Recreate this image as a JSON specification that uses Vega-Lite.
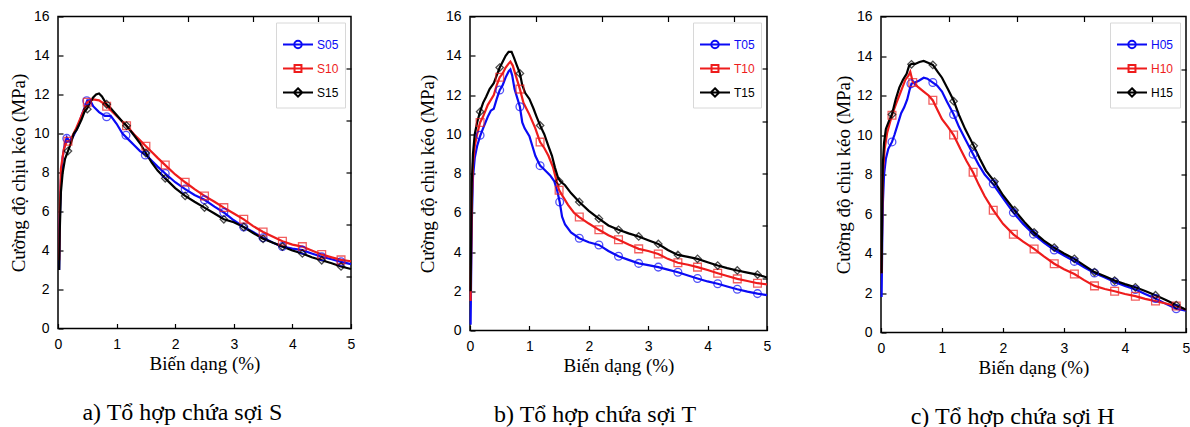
{
  "$schema": "https://vega.github.io/schema/vega-lite/v6.json",
  "padding": {"left": 8, "top": 8.5, "right": 0, "bottom": 0},
  "spacing": 61,
  "resolve": {"scale": {"color": "independent", "shape": "independent"}, "legend": {"color": "independent", "shape": "independent"}},
  "datasets": {
    "a": [
      {"s":"S05","x":0.02,"y":3.0},{"s":"S05","x":0.03,"y":5.5},{"s":"S05","x":0.05,"y":7.6},{"s":"S05","x":0.08,"y":8.8},{"s":"S05","x":0.12,"y":9.5},{"s":"S05","x":0.15,"y":9.8},{"s":"S05","x":0.2,"y":9.6},{"s":"S05","x":0.25,"y":9.8},{"s":"S05","x":0.3,"y":10.1},{"s":"S05","x":0.35,"y":10.4},{"s":"S05","x":0.4,"y":10.9},{"s":"S05","x":0.45,"y":11.3},{"s":"S05","x":0.5,"y":11.7},{"s":"S05","x":0.55,"y":11.7},{"s":"S05","x":0.6,"y":11.4},{"s":"S05","x":0.7,"y":11.1},{"s":"S05","x":0.8,"y":10.9},{"s":"S05","x":0.9,"y":10.9},{"s":"S05","x":1.0,"y":10.5},{"s":"S05","x":1.1,"y":10.0},{"s":"S05","x":1.2,"y":9.7},{"s":"S05","x":1.3,"y":9.4},{"s":"S05","x":1.4,"y":9.1},{"s":"S05","x":1.5,"y":8.9},{"s":"S05","x":1.6,"y":8.6},{"s":"S05","x":1.7,"y":8.3},{"s":"S05","x":1.83,"y":7.95},{"s":"S05","x":2.0,"y":7.5},{"s":"S05","x":2.17,"y":7.15},{"s":"S05","x":2.33,"y":6.85},{"s":"S05","x":2.5,"y":6.6},{"s":"S05","x":2.67,"y":6.25},{"s":"S05","x":2.83,"y":5.95},{"s":"S05","x":3.0,"y":5.55},{"s":"S05","x":3.17,"y":5.2},{"s":"S05","x":3.33,"y":4.95},{"s":"S05","x":3.5,"y":4.65},{"s":"S05","x":3.67,"y":4.4},{"s":"S05","x":3.83,"y":4.2},{"s":"S05","x":4.0,"y":4.1},{"s":"S05","x":4.17,"y":4.02},{"s":"S05","x":4.33,"y":3.85},{"s":"S05","x":4.5,"y":3.68},{"s":"S05","x":4.67,"y":3.55},{"s":"S05","x":4.83,"y":3.42},{"s":"S05","x":5.0,"y":3.3},
      {"s":"S10","x":0.02,"y":3.5},{"s":"S10","x":0.03,"y":6.0},{"s":"S10","x":0.05,"y":8.2},{"s":"S10","x":0.1,"y":9.2},{"s":"S10","x":0.15,"y":9.6},{"s":"S10","x":0.2,"y":9.6},{"s":"S10","x":0.25,"y":9.9},{"s":"S10","x":0.3,"y":10.2},{"s":"S10","x":0.4,"y":10.9},{"s":"S10","x":0.5,"y":11.6},{"s":"S10","x":0.6,"y":11.75},{"s":"S10","x":0.7,"y":11.7},{"s":"S10","x":0.8,"y":11.5},{"s":"S10","x":0.9,"y":11.2},{"s":"S10","x":1.0,"y":10.9},{"s":"S10","x":1.1,"y":10.6},{"s":"S10","x":1.2,"y":10.3},{"s":"S10","x":1.3,"y":9.95},{"s":"S10","x":1.4,"y":9.65},{"s":"S10","x":1.5,"y":9.35},{"s":"S10","x":1.6,"y":9.05},{"s":"S10","x":1.7,"y":8.75},{"s":"S10","x":1.83,"y":8.38},{"s":"S10","x":2.0,"y":7.9},{"s":"S10","x":2.17,"y":7.5},{"s":"S10","x":2.33,"y":7.15},{"s":"S10","x":2.5,"y":6.8},{"s":"S10","x":2.67,"y":6.5},{"s":"S10","x":2.83,"y":6.2},{"s":"S10","x":3.0,"y":5.9},{"s":"S10","x":3.17,"y":5.6},{"s":"S10","x":3.33,"y":5.25},{"s":"S10","x":3.5,"y":4.95},{"s":"S10","x":3.67,"y":4.7},{"s":"S10","x":3.83,"y":4.47},{"s":"S10","x":4.0,"y":4.3},{"s":"S10","x":4.17,"y":4.2},{"s":"S10","x":4.33,"y":4.0},{"s":"S10","x":4.5,"y":3.8},{"s":"S10","x":4.67,"y":3.65},{"s":"S10","x":4.83,"y":3.52},{"s":"S10","x":5.0,"y":3.45},
      {"s":"S15","x":0.02,"y":3.0},{"s":"S15","x":0.03,"y":5.0},{"s":"S15","x":0.05,"y":7.0},{"s":"S15","x":0.08,"y":8.0},{"s":"S15","x":0.12,"y":8.7},{"s":"S15","x":0.17,"y":9.1},{"s":"S15","x":0.22,"y":9.5},{"s":"S15","x":0.27,"y":10.0},{"s":"S15","x":0.32,"y":10.2},{"s":"S15","x":0.4,"y":10.7},{"s":"S15","x":0.45,"y":11.1},{"s":"S15","x":0.5,"y":11.3},{"s":"S15","x":0.55,"y":11.6},{"s":"S15","x":0.6,"y":11.85},{"s":"S15","x":0.65,"y":12.0},{"s":"S15","x":0.7,"y":12.05},{"s":"S15","x":0.75,"y":11.9},{"s":"S15","x":0.83,"y":11.5},{"s":"S15","x":0.9,"y":11.3},{"s":"S15","x":1.0,"y":10.95},{"s":"S15","x":1.1,"y":10.6},{"s":"S15","x":1.17,"y":10.4},{"s":"S15","x":1.3,"y":9.9},{"s":"S15","x":1.4,"y":9.5},{"s":"S15","x":1.5,"y":9.0},{"s":"S15","x":1.6,"y":8.5},{"s":"S15","x":1.7,"y":8.1},{"s":"S15","x":1.83,"y":7.7},{"s":"S15","x":2.0,"y":7.2},{"s":"S15","x":2.17,"y":6.8},{"s":"S15","x":2.33,"y":6.5},{"s":"S15","x":2.5,"y":6.2},{"s":"S15","x":2.67,"y":5.9},{"s":"S15","x":2.83,"y":5.6},{"s":"S15","x":3.0,"y":5.45},{"s":"S15","x":3.17,"y":5.2},{"s":"S15","x":3.33,"y":4.9},{"s":"S15","x":3.5,"y":4.6},{"s":"S15","x":3.67,"y":4.4},{"s":"S15","x":3.83,"y":4.2},{"s":"S15","x":4.0,"y":4.0},{"s":"S15","x":4.17,"y":3.85},{"s":"S15","x":4.33,"y":3.65},{"s":"S15","x":4.5,"y":3.5},{"s":"S15","x":4.67,"y":3.35},{"s":"S15","x":4.83,"y":3.18},{"s":"S15","x":5.0,"y":3.05}
    ],
    "am": [
      {"s":"S05","x":0.15,"y":9.75},{"s":"S05","x":0.49,"y":11.68},{"s":"S05","x":0.83,"y":10.86},{"s":"S05","x":1.16,"y":9.91},{"s":"S05","x":1.49,"y":8.9},{"s":"S05","x":1.83,"y":7.95},{"s":"S05","x":2.17,"y":7.15},{"s":"S05","x":2.5,"y":6.6},{"s":"S05","x":2.83,"y":5.95},{"s":"S05","x":3.17,"y":5.2},{"s":"S05","x":3.5,"y":4.65},{"s":"S05","x":3.83,"y":4.2},{"s":"S05","x":4.17,"y":4.02},{"s":"S05","x":4.5,"y":3.68},{"s":"S05","x":4.83,"y":3.42},
      {"s":"S10","x":0.17,"y":9.6},{"s":"S10","x":0.5,"y":11.6},{"s":"S10","x":0.83,"y":11.4},{"s":"S10","x":1.17,"y":10.4},{"s":"S10","x":1.5,"y":9.35},{"s":"S10","x":1.83,"y":8.38},{"s":"S10","x":2.17,"y":7.5},{"s":"S10","x":2.5,"y":6.8},{"s":"S10","x":2.83,"y":6.2},{"s":"S10","x":3.17,"y":5.6},{"s":"S10","x":3.5,"y":4.95},{"s":"S10","x":3.83,"y":4.47},{"s":"S10","x":4.17,"y":4.2},{"s":"S10","x":4.5,"y":3.8},{"s":"S10","x":4.83,"y":3.52},
      {"s":"S15","x":0.17,"y":9.1},{"s":"S15","x":0.5,"y":11.25},{"s":"S15","x":0.83,"y":11.5},{"s":"S15","x":1.17,"y":10.4},{"s":"S15","x":1.5,"y":9.0},{"s":"S15","x":1.83,"y":7.7},{"s":"S15","x":2.17,"y":6.8},{"s":"S15","x":2.5,"y":6.2},{"s":"S15","x":2.83,"y":5.6},{"s":"S15","x":3.17,"y":5.2},{"s":"S15","x":3.5,"y":4.6},{"s":"S15","x":3.83,"y":4.2},{"s":"S15","x":4.17,"y":3.85},{"s":"S15","x":4.5,"y":3.5},{"s":"S15","x":4.83,"y":3.18}
    ],
    "b": [
      {"s":"T05","x":0.01,"y":0.3},{"s":"T05","x":0.02,"y":3.0},{"s":"T05","x":0.03,"y":5.5},{"s":"T05","x":0.05,"y":7.8},{"s":"T05","x":0.08,"y":8.8},{"s":"T05","x":0.12,"y":9.4},{"s":"T05","x":0.17,"y":9.9},{"s":"T05","x":0.22,"y":10.3},{"s":"T05","x":0.3,"y":10.9},{"s":"T05","x":0.35,"y":11.2},{"s":"T05","x":0.4,"y":11.3},{"s":"T05","x":0.45,"y":11.8},{"s":"T05","x":0.5,"y":12.25},{"s":"T05","x":0.55,"y":12.5},{"s":"T05","x":0.6,"y":12.9},{"s":"T05","x":0.65,"y":13.2},{"s":"T05","x":0.68,"y":13.3},{"s":"T05","x":0.71,"y":13.0},{"s":"T05","x":0.75,"y":12.3},{"s":"T05","x":0.8,"y":11.8},{"s":"T05","x":0.84,"y":11.4},{"s":"T05","x":0.88,"y":10.6},{"s":"T05","x":0.92,"y":10.3},{"s":"T05","x":1.0,"y":9.9},{"s":"T05","x":1.05,"y":9.4},{"s":"T05","x":1.1,"y":8.9},{"s":"T05","x":1.18,"y":8.4},{"s":"T05","x":1.25,"y":8.2},{"s":"T05","x":1.35,"y":7.9},{"s":"T05","x":1.42,"y":7.6},{"s":"T05","x":1.47,"y":7.1},{"s":"T05","x":1.51,"y":6.55},{"s":"T05","x":1.55,"y":5.8},{"s":"T05","x":1.6,"y":5.4},{"s":"T05","x":1.7,"y":5.0},{"s":"T05","x":1.84,"y":4.7},{"s":"T05","x":2.0,"y":4.5},{"s":"T05","x":2.17,"y":4.36},{"s":"T05","x":2.33,"y":4.05},{"s":"T05","x":2.5,"y":3.78},{"s":"T05","x":2.67,"y":3.6},{"s":"T05","x":2.84,"y":3.42},{"s":"T05","x":3.0,"y":3.33},{"s":"T05","x":3.17,"y":3.23},{"s":"T05","x":3.33,"y":3.1},{"s":"T05","x":3.5,"y":2.97},{"s":"T05","x":3.67,"y":2.8},{"s":"T05","x":3.83,"y":2.65},{"s":"T05","x":4.0,"y":2.5},{"s":"T05","x":4.17,"y":2.38},{"s":"T05","x":4.33,"y":2.24},{"s":"T05","x":4.5,"y":2.1},{"s":"T05","x":4.67,"y":1.98},{"s":"T05","x":4.84,"y":1.88},{"s":"T05","x":5.0,"y":1.8},
      {"s":"T10","x":0.01,"y":1.5},{"s":"T10","x":0.02,"y":4.0},{"s":"T10","x":0.03,"y":6.5},{"s":"T10","x":0.05,"y":8.5},{"s":"T10","x":0.08,"y":9.4},{"s":"T10","x":0.12,"y":10.0},{"s":"T10","x":0.17,"y":10.6},{"s":"T10","x":0.22,"y":10.9},{"s":"T10","x":0.3,"y":11.5},{"s":"T10","x":0.4,"y":12.0},{"s":"T10","x":0.45,"y":12.5},{"s":"T10","x":0.5,"y":12.9},{"s":"T10","x":0.55,"y":13.1},{"s":"T10","x":0.6,"y":13.4},{"s":"T10","x":0.65,"y":13.6},{"s":"T10","x":0.68,"y":13.7},{"s":"T10","x":0.72,"y":13.5},{"s":"T10","x":0.77,"y":13.0},{"s":"T10","x":0.84,"y":12.3},{"s":"T10","x":0.9,"y":11.6},{"s":"T10","x":1.0,"y":11.0},{"s":"T10","x":1.1,"y":10.3},{"s":"T10","x":1.18,"y":9.6},{"s":"T10","x":1.25,"y":9.3},{"s":"T10","x":1.32,"y":8.9},{"s":"T10","x":1.4,"y":8.3},{"s":"T10","x":1.45,"y":7.7},{"s":"T10","x":1.5,"y":7.15},{"s":"T10","x":1.55,"y":6.9},{"s":"T10","x":1.65,"y":6.4},{"s":"T10","x":1.75,"y":6.0},{"s":"T10","x":1.84,"y":5.78},{"s":"T10","x":2.0,"y":5.45},{"s":"T10","x":2.17,"y":5.13},{"s":"T10","x":2.33,"y":4.85},{"s":"T10","x":2.5,"y":4.62},{"s":"T10","x":2.67,"y":4.38},{"s":"T10","x":2.84,"y":4.16},{"s":"T10","x":3.0,"y":4.05},{"s":"T10","x":3.17,"y":3.9},{"s":"T10","x":3.33,"y":3.65},{"s":"T10","x":3.5,"y":3.45},{"s":"T10","x":3.67,"y":3.35},{"s":"T10","x":3.83,"y":3.23},{"s":"T10","x":4.0,"y":3.08},{"s":"T10","x":4.17,"y":2.92},{"s":"T10","x":4.33,"y":2.78},{"s":"T10","x":4.5,"y":2.63},{"s":"T10","x":4.67,"y":2.52},{"s":"T10","x":4.84,"y":2.41},{"s":"T10","x":5.0,"y":2.35},
      {"s":"T15","x":0.01,"y":2.0},{"s":"T15","x":0.02,"y":5.0},{"s":"T15","x":0.03,"y":7.5},{"s":"T15","x":0.05,"y":9.0},{"s":"T15","x":0.08,"y":10.0},{"s":"T15","x":0.12,"y":10.6},{"s":"T15","x":0.17,"y":11.15},{"s":"T15","x":0.22,"y":11.6},{"s":"T15","x":0.27,"y":11.9},{"s":"T15","x":0.33,"y":12.3},{"s":"T15","x":0.4,"y":12.6},{"s":"T15","x":0.45,"y":13.0},{"s":"T15","x":0.5,"y":13.4},{"s":"T15","x":0.55,"y":13.7},{"s":"T15","x":0.6,"y":14.0},{"s":"T15","x":0.65,"y":14.2},{"s":"T15","x":0.7,"y":14.2},{"s":"T15","x":0.74,"y":13.9},{"s":"T15","x":0.79,"y":13.5},{"s":"T15","x":0.84,"y":13.1},{"s":"T15","x":0.88,"y":12.5},{"s":"T15","x":0.93,"y":12.1},{"s":"T15","x":1.0,"y":11.8},{"s":"T15","x":1.07,"y":11.3},{"s":"T15","x":1.12,"y":10.9},{"s":"T15","x":1.18,"y":10.45},{"s":"T15","x":1.25,"y":10.0},{"s":"T15","x":1.32,"y":9.4},{"s":"T15","x":1.38,"y":8.9},{"s":"T15","x":1.43,"y":8.3},{"s":"T15","x":1.48,"y":7.8},{"s":"T15","x":1.52,"y":7.6},{"s":"T15","x":1.6,"y":7.4},{"s":"T15","x":1.7,"y":7.0},{"s":"T15","x":1.84,"y":6.55},{"s":"T15","x":2.0,"y":6.1},{"s":"T15","x":2.17,"y":5.7},{"s":"T15","x":2.33,"y":5.35},{"s":"T15","x":2.5,"y":5.13},{"s":"T15","x":2.67,"y":4.95},{"s":"T15","x":2.84,"y":4.79},{"s":"T15","x":3.0,"y":4.6},{"s":"T15","x":3.17,"y":4.41},{"s":"T15","x":3.33,"y":4.1},{"s":"T15","x":3.5,"y":3.85},{"s":"T15","x":3.67,"y":3.75},{"s":"T15","x":3.83,"y":3.65},{"s":"T15","x":4.0,"y":3.48},{"s":"T15","x":4.17,"y":3.31},{"s":"T15","x":4.33,"y":3.18},{"s":"T15","x":4.5,"y":3.06},{"s":"T15","x":4.67,"y":2.95},{"s":"T15","x":4.84,"y":2.85},{"s":"T15","x":5.0,"y":2.7}
    ],
    "bm": [
      {"s":"T05","x":0.17,"y":9.95},{"s":"T05","x":0.5,"y":12.25},{"s":"T05","x":0.84,"y":11.4},{"s":"T05","x":1.18,"y":8.4},{"s":"T05","x":1.51,"y":6.55},{"s":"T05","x":1.84,"y":4.7},{"s":"T05","x":2.17,"y":4.36},{"s":"T05","x":2.5,"y":3.78},{"s":"T05","x":2.84,"y":3.42},{"s":"T05","x":3.17,"y":3.23},{"s":"T05","x":3.5,"y":2.97},{"s":"T05","x":3.83,"y":2.65},{"s":"T05","x":4.17,"y":2.38},{"s":"T05","x":4.5,"y":2.1},{"s":"T05","x":4.84,"y":1.88},
      {"s":"T10","x":0.17,"y":10.6},{"s":"T10","x":0.5,"y":12.9},{"s":"T10","x":0.84,"y":12.3},{"s":"T10","x":1.18,"y":9.6},{"s":"T10","x":1.5,"y":7.15},{"s":"T10","x":1.84,"y":5.78},{"s":"T10","x":2.17,"y":5.13},{"s":"T10","x":2.5,"y":4.62},{"s":"T10","x":2.84,"y":4.16},{"s":"T10","x":3.17,"y":3.9},{"s":"T10","x":3.5,"y":3.45},{"s":"T10","x":3.83,"y":3.23},{"s":"T10","x":4.17,"y":2.92},{"s":"T10","x":4.5,"y":2.63},{"s":"T10","x":4.84,"y":2.41},
      {"s":"T15","x":0.17,"y":11.15},{"s":"T15","x":0.5,"y":13.4},{"s":"T15","x":0.84,"y":13.1},{"s":"T15","x":1.18,"y":10.45},{"s":"T15","x":1.5,"y":7.6},{"s":"T15","x":1.84,"y":6.55},{"s":"T15","x":2.17,"y":5.7},{"s":"T15","x":2.5,"y":5.13},{"s":"T15","x":2.84,"y":4.79},{"s":"T15","x":3.17,"y":4.41},{"s":"T15","x":3.5,"y":3.85},{"s":"T15","x":3.83,"y":3.65},{"s":"T15","x":4.17,"y":3.31},{"s":"T15","x":4.5,"y":3.06},{"s":"T15","x":4.84,"y":2.85}
    ],
    "c": [
      {"s":"H05","x":0.01,"y":1.8},{"s":"H05","x":0.02,"y":4.5},{"s":"H05","x":0.03,"y":6.5},{"s":"H05","x":0.05,"y":8.0},{"s":"H05","x":0.08,"y":8.8},{"s":"H05","x":0.12,"y":9.3},{"s":"H05","x":0.18,"y":9.65},{"s":"H05","x":0.22,"y":10.0},{"s":"H05","x":0.28,"y":10.6},{"s":"H05","x":0.33,"y":11.1},{"s":"H05","x":0.38,"y":11.4},{"s":"H05","x":0.43,"y":11.8},{"s":"H05","x":0.47,"y":12.3},{"s":"H05","x":0.5,"y":12.6},{"s":"H05","x":0.55,"y":12.65},{"s":"H05","x":0.62,"y":12.75},{"s":"H05","x":0.7,"y":12.9},{"s":"H05","x":0.76,"y":12.85},{"s":"H05","x":0.85,"y":12.65},{"s":"H05","x":0.92,"y":12.5},{"s":"H05","x":1.0,"y":12.2},{"s":"H05","x":1.08,"y":11.7},{"s":"H05","x":1.19,"y":11.05},{"s":"H05","x":1.28,"y":10.4},{"s":"H05","x":1.38,"y":9.8},{"s":"H05","x":1.51,"y":9.03},{"s":"H05","x":1.6,"y":8.5},{"s":"H05","x":1.7,"y":8.0},{"s":"H05","x":1.84,"y":7.5},{"s":"H05","x":2.0,"y":6.8},{"s":"H05","x":2.17,"y":6.07},{"s":"H05","x":2.33,"y":5.5},{"s":"H05","x":2.5,"y":4.98},{"s":"H05","x":2.67,"y":4.55},{"s":"H05","x":2.84,"y":4.18},{"s":"H05","x":3.0,"y":3.9},{"s":"H05","x":3.17,"y":3.6},{"s":"H05","x":3.33,"y":3.3},{"s":"H05","x":3.5,"y":3.01},{"s":"H05","x":3.67,"y":2.78},{"s":"H05","x":3.83,"y":2.56},{"s":"H05","x":4.0,"y":2.36},{"s":"H05","x":4.17,"y":2.18},{"s":"H05","x":4.33,"y":1.95},{"s":"H05","x":4.5,"y":1.72},{"s":"H05","x":4.67,"y":1.45},{"s":"H05","x":4.84,"y":1.2},{"s":"H05","x":5.0,"y":1.1},
      {"s":"H10","x":0.01,"y":3.0},{"s":"H10","x":0.02,"y":6.0},{"s":"H10","x":0.03,"y":8.0},{"s":"H10","x":0.06,"y":9.3},{"s":"H10","x":0.1,"y":10.1},{"s":"H10","x":0.18,"y":11.0},{"s":"H10","x":0.25,"y":11.6},{"s":"H10","x":0.3,"y":12.0},{"s":"H10","x":0.35,"y":12.4},{"s":"H10","x":0.4,"y":12.8},{"s":"H10","x":0.45,"y":13.0},{"s":"H10","x":0.48,"y":13.2},{"s":"H10","x":0.52,"y":12.7},{"s":"H10","x":0.6,"y":12.45},{"s":"H10","x":0.7,"y":12.2},{"s":"H10","x":0.78,"y":12.0},{"s":"H10","x":0.85,"y":11.75},{"s":"H10","x":0.92,"y":11.3},{"s":"H10","x":1.0,"y":10.8},{"s":"H10","x":1.1,"y":10.4},{"s":"H10","x":1.19,"y":10.0},{"s":"H10","x":1.3,"y":9.3},{"s":"H10","x":1.4,"y":8.7},{"s":"H10","x":1.51,"y":8.1},{"s":"H10","x":1.6,"y":7.5},{"s":"H10","x":1.7,"y":6.9},{"s":"H10","x":1.84,"y":6.2},{"s":"H10","x":2.0,"y":5.5},{"s":"H10","x":2.17,"y":4.97},{"s":"H10","x":2.33,"y":4.6},{"s":"H10","x":2.51,"y":4.23},{"s":"H10","x":2.67,"y":3.85},{"s":"H10","x":2.84,"y":3.48},{"s":"H10","x":3.0,"y":3.2},{"s":"H10","x":3.17,"y":2.96},{"s":"H10","x":3.33,"y":2.65},{"s":"H10","x":3.5,"y":2.36},{"s":"H10","x":3.67,"y":2.2},{"s":"H10","x":3.83,"y":2.09},{"s":"H10","x":4.0,"y":1.95},{"s":"H10","x":4.17,"y":1.84},{"s":"H10","x":4.33,"y":1.7},{"s":"H10","x":4.5,"y":1.59},{"s":"H10","x":4.67,"y":1.47},{"s":"H10","x":4.84,"y":1.34},{"s":"H10","x":5.0,"y":1.15},
      {"s":"H15","x":0.01,"y":3.0},{"s":"H15","x":0.02,"y":6.5},{"s":"H15","x":0.03,"y":8.5},{"s":"H15","x":0.05,"y":9.6},{"s":"H15","x":0.08,"y":10.3},{"s":"H15","x":0.13,"y":10.7},{"s":"H15","x":0.18,"y":11.05},{"s":"H15","x":0.24,"y":11.8},{"s":"H15","x":0.3,"y":12.4},{"s":"H15","x":0.36,"y":12.8},{"s":"H15","x":0.42,"y":13.1},{"s":"H15","x":0.46,"y":13.5},{"s":"H15","x":0.5,"y":13.6},{"s":"H15","x":0.56,"y":13.6},{"s":"H15","x":0.63,"y":13.7},{"s":"H15","x":0.7,"y":13.75},{"s":"H15","x":0.78,"y":13.65},{"s":"H15","x":0.85,"y":13.55},{"s":"H15","x":0.93,"y":13.2},{"s":"H15","x":1.0,"y":12.9},{"s":"H15","x":1.1,"y":12.3},{"s":"H15","x":1.19,"y":11.75},{"s":"H15","x":1.28,"y":11.0},{"s":"H15","x":1.38,"y":10.3},{"s":"H15","x":1.52,"y":9.45},{"s":"H15","x":1.62,"y":8.8},{"s":"H15","x":1.72,"y":8.2},{"s":"H15","x":1.86,"y":7.64},{"s":"H15","x":2.0,"y":6.95},{"s":"H15","x":2.19,"y":6.19},{"s":"H15","x":2.35,"y":5.6},{"s":"H15","x":2.51,"y":5.07},{"s":"H15","x":2.67,"y":4.65},{"s":"H15","x":2.84,"y":4.3},{"s":"H15","x":3.0,"y":4.0},{"s":"H15","x":3.17,"y":3.73},{"s":"H15","x":3.33,"y":3.4},{"s":"H15","x":3.5,"y":3.06},{"s":"H15","x":3.67,"y":2.85},{"s":"H15","x":3.83,"y":2.63},{"s":"H15","x":4.0,"y":2.45},{"s":"H15","x":4.17,"y":2.29},{"s":"H15","x":4.33,"y":2.1},{"s":"H15","x":4.5,"y":1.89},{"s":"H15","x":4.67,"y":1.65},{"s":"H15","x":4.84,"y":1.39},{"s":"H15","x":5.0,"y":1.15}
    ],
    "cm": [
      {"s":"H05","x":0.18,"y":9.65},{"s":"H05","x":0.49,"y":12.59},{"s":"H05","x":0.85,"y":12.66},{"s":"H05","x":1.19,"y":11.04},{"s":"H05","x":1.51,"y":9.03},{"s":"H05","x":1.84,"y":7.53},{"s":"H05","x":2.17,"y":6.07},{"s":"H05","x":2.5,"y":4.98},{"s":"H05","x":2.84,"y":4.18},{"s":"H05","x":3.17,"y":3.6},{"s":"H05","x":3.5,"y":3.01},{"s":"H05","x":3.83,"y":2.56},{"s":"H05","x":4.17,"y":2.18},{"s":"H05","x":4.5,"y":1.72},{"s":"H05","x":4.84,"y":1.2},
      {"s":"H10","x":0.18,"y":11.0},{"s":"H10","x":0.52,"y":12.66},{"s":"H10","x":0.85,"y":11.76},{"s":"H10","x":1.19,"y":10.0},{"s":"H10","x":1.51,"y":8.11},{"s":"H10","x":1.84,"y":6.19},{"s":"H10","x":2.17,"y":4.97},{"s":"H10","x":2.51,"y":4.23},{"s":"H10","x":2.84,"y":3.48},{"s":"H10","x":3.17,"y":2.96},{"s":"H10","x":3.5,"y":2.36},{"s":"H10","x":3.83,"y":2.09},{"s":"H10","x":4.17,"y":1.84},{"s":"H10","x":4.5,"y":1.59},{"s":"H10","x":4.84,"y":1.34},
      {"s":"H15","x":0.18,"y":11.04},{"s":"H15","x":0.5,"y":13.58},{"s":"H15","x":0.85,"y":13.55},{"s":"H15","x":1.19,"y":11.71},{"s":"H15","x":1.52,"y":9.45},{"s":"H15","x":1.86,"y":7.64},{"s":"H15","x":2.19,"y":6.19},{"s":"H15","x":2.51,"y":5.07},{"s":"H15","x":2.84,"y":4.3},{"s":"H15","x":3.17,"y":3.73},{"s":"H15","x":3.5,"y":3.06},{"s":"H15","x":3.83,"y":2.63},{"s":"H15","x":4.17,"y":2.29},{"s":"H15","x":4.5,"y":1.89},{"s":"H15","x":4.84,"y":1.39}
    ]
  },
  "hconcat": [
    {
      "width": 293, "height": 312,
      "title": {"text": "a) Tổ hợp chứa sợi S"},
      "resolve": {"axis": {"x": "independent", "y": "independent"}},
      "layer": [
        {"data": {"name": "a"}, "transform": [{"filter": "datum.s == 'S05'"}], "mark": {"type": "line", "strokeWidth": 2.2, "color": "#0a0af5"},
         "encoding": {
           "x": {"field": "x", "type": "quantitative", "scale": {"domain": [0, 5], "nice": false}, "axis": {"orient": "bottom", "values": [0, 1, 2, 3, 4, 5], "title": "Biến dạng (%)"}},
           "y": {"field": "y", "type": "quantitative", "scale": {"domain": [0, 16], "nice": false}, "axis": {"orient": "left", "values": [0, 2, 4, 6, 8, 10, 12, 14, 16], "title": "Cường độ chịu kéo (MPa)", "titlePadding": 5}}
         }},
        {"data": {"name": "a"}, "transform": [{"filter": "datum.s == 'S10'"}], "mark": {"type": "line", "strokeWidth": 2.2, "color": "#ee1c1c"},
         "encoding": {"x": {"field": "x", "type": "quantitative", "axis": null}, "y": {"field": "y", "type": "quantitative", "axis": null}}},
        {"data": {"name": "a"}, "transform": [{"filter": "datum.s == 'S15'"}], "mark": {"type": "line", "strokeWidth": 2.2, "color": "#000000"},
         "encoding": {"x": {"field": "x", "type": "quantitative", "axis": null}, "y": {"field": "y", "type": "quantitative", "axis": null}}},
        {"data": {"name": "am"}, "transform": [{"filter": "datum.s == 'S05'"}],
         "mark": {"type": "point", "shape": "circle", "filled": false, "size": 60, "strokeWidth": 1.3, "color": "#0a0af5"},
         "encoding": {
           "x": {"field": "x", "type": "quantitative", "axis": {"orient": "top", "values": [1.1111, 2.2222, 3.3333, 4.4444], "labels": false, "title": null}},
           "y": {"field": "y", "type": "quantitative", "axis": {"orient": "right", "values": [2.6667, 5.3333, 8, 10.6667, 13.3333], "labels": false, "title": null}}
         }},
        {"data": {"name": "am"}, "transform": [{"filter": "datum.s == 'S10'"}],
         "mark": {"type": "point", "shape": "square", "filled": false, "size": 60, "strokeWidth": 1.3, "color": "#ee1c1c"},
         "encoding": {"x": {"field": "x", "type": "quantitative", "axis": null}, "y": {"field": "y", "type": "quantitative", "axis": null}}},
        {"data": {"name": "am"}, "transform": [{"filter": "datum.s == 'S15'"}],
         "mark": {"type": "point", "shape": "diamond", "filled": false, "size": 55, "strokeWidth": 1.3, "color": "#000000"},
         "encoding": {"x": {"field": "x", "type": "quantitative", "axis": null}, "y": {"field": "y", "type": "quantitative", "axis": null}}},
        {"data": {"values": [{"s": "S05"}, {"s": "S10"}, {"s": "S15"}]},
         "mark": {"type": "point", "filled": false, "opacity": 0},
         "encoding": {
           "color": {"field": "s", "type": "nominal", "scale": {"domain": ["S05", "S10", "S15"], "range": ["#0a0af5", "#ee1c1c", "#000000"]},
             "legend": {"title": null, "labelColor": {"expr": "indexof(datum.label,'05')>=0 ? '#0a0af5' : indexof(datum.label,'10')>=0 ? '#ee1c1c' : '#000000'"}}},
           "shape": {"field": "s", "type": "nominal", "scale": {"domain": ["S05", "S10", "S15"], "range": ["M-1,0H1M-0.25,0A0.25,0.25,0,1,0,0.25,0A0.25,0.25,0,1,0,-0.25,0Z", "M-1,0H1M-0.23,-0.23H0.23V0.23H-0.23Z", "M-1,0H1M0,-0.28L0.28,0L0,0.28L-0.28,0Z"]},
             "legend": {"title": null, "labelColor": {"expr": "indexof(datum.label,'05')>=0 ? '#0a0af5' : indexof(datum.label,'10')>=0 ? '#ee1c1c' : '#000000'"}}}
         }}
      ]
    },
    {
      "width": 297, "height": 314,
      "title": {"text": "b) Tổ hợp chứa sợi T"},
      "resolve": {"axis": {"x": "independent", "y": "independent"}},
      "layer": [
        {"data": {"name": "b"}, "transform": [{"filter": "datum.s == 'T05'"}], "mark": {"type": "line", "strokeWidth": 2.2, "color": "#0a0af5"},
         "encoding": {
           "x": {"field": "x", "type": "quantitative", "scale": {"domain": [0, 5], "nice": false}, "axis": {"orient": "bottom", "values": [0, 1, 2, 3, 4, 5], "title": "Biến dạng (%)"}},
           "y": {"field": "y", "type": "quantitative", "scale": {"domain": [0, 16], "nice": false}, "axis": {"orient": "left", "values": [0, 2, 4, 6, 8, 10, 12, 14, 16], "title": "Cường độ chịu kéo (MPa)", "titlePadding": 7.5}}
         }},
        {"data": {"name": "b"}, "transform": [{"filter": "datum.s == 'T10'"}], "mark": {"type": "line", "strokeWidth": 2.2, "color": "#ee1c1c"},
         "encoding": {"x": {"field": "x", "type": "quantitative", "axis": null}, "y": {"field": "y", "type": "quantitative", "axis": null}}},
        {"data": {"name": "b"}, "transform": [{"filter": "datum.s == 'T15'"}], "mark": {"type": "line", "strokeWidth": 2.2, "color": "#000000"},
         "encoding": {"x": {"field": "x", "type": "quantitative", "axis": null}, "y": {"field": "y", "type": "quantitative", "axis": null}}},
        {"data": {"name": "bm"}, "transform": [{"filter": "datum.s == 'T05'"}],
         "mark": {"type": "point", "shape": "circle", "filled": false, "size": 60, "strokeWidth": 1.3, "color": "#0a0af5"},
         "encoding": {
           "x": {"field": "x", "type": "quantitative", "axis": {"orient": "top", "values": [1.1111, 2.2222, 3.3333, 4.4444], "labels": false, "title": null}},
           "y": {"field": "y", "type": "quantitative", "axis": {"orient": "right", "values": [2.6667, 5.3333, 8, 10.6667, 13.3333], "labels": false, "title": null}}
         }},
        {"data": {"name": "bm"}, "transform": [{"filter": "datum.s == 'T10'"}],
         "mark": {"type": "point", "shape": "square", "filled": false, "size": 60, "strokeWidth": 1.3, "color": "#ee1c1c"},
         "encoding": {"x": {"field": "x", "type": "quantitative", "axis": null}, "y": {"field": "y", "type": "quantitative", "axis": null}}},
        {"data": {"name": "bm"}, "transform": [{"filter": "datum.s == 'T15'"}],
         "mark": {"type": "point", "shape": "diamond", "filled": false, "size": 55, "strokeWidth": 1.3, "color": "#000000"},
         "encoding": {"x": {"field": "x", "type": "quantitative", "axis": null}, "y": {"field": "y", "type": "quantitative", "axis": null}}},
        {"data": {"values": [{"s": "T05"}, {"s": "T10"}, {"s": "T15"}]},
         "mark": {"type": "point", "filled": false, "opacity": 0},
         "encoding": {
           "color": {"field": "s", "type": "nominal", "scale": {"domain": ["T05", "T10", "T15"], "range": ["#0a0af5", "#ee1c1c", "#000000"]},
             "legend": {"title": null, "labelColor": {"expr": "indexof(datum.label,'05')>=0 ? '#0a0af5' : indexof(datum.label,'10')>=0 ? '#ee1c1c' : '#000000'"}}},
           "shape": {"field": "s", "type": "nominal", "scale": {"domain": ["T05", "T10", "T15"], "range": ["M-1,0H1M-0.25,0A0.25,0.25,0,1,0,0.25,0A0.25,0.25,0,1,0,-0.25,0Z", "M-1,0H1M-0.23,-0.23H0.23V0.23H-0.23Z", "M-1,0H1M0,-0.28L0.28,0L0,0.28L-0.28,0Z"]},
             "legend": {"title": null, "labelColor": {"expr": "indexof(datum.label,'05')>=0 ? '#0a0af5' : indexof(datum.label,'10')>=0 ? '#ee1c1c' : '#000000'"}}}
         }}
      ]
    },
    {
      "width": 305, "height": 316,
      "title": {"text": "c) Tổ hợp chứa sợi H"},
      "resolve": {"axis": {"x": "independent", "y": "independent"}},
      "layer": [
        {"data": {"name": "c"}, "transform": [{"filter": "datum.s == 'H05'"}], "mark": {"type": "line", "strokeWidth": 2.2, "color": "#0a0af5"},
         "encoding": {
           "x": {"field": "x", "type": "quantitative", "scale": {"domain": [0, 5], "nice": false}, "axis": {"orient": "bottom", "values": [0, 1, 2, 3, 4, 5], "title": "Biến dạng (%)"}},
           "y": {"field": "y", "type": "quantitative", "scale": {"domain": [0, 16], "nice": false}, "axis": {"orient": "left", "values": [0, 2, 4, 6, 8, 10, 12, 14, 16], "title": "Cường độ chịu kéo (MPa)", "titlePadding": 2.5}}
         }},
        {"data": {"name": "c"}, "transform": [{"filter": "datum.s == 'H10'"}], "mark": {"type": "line", "strokeWidth": 2.2, "color": "#ee1c1c"},
         "encoding": {"x": {"field": "x", "type": "quantitative", "axis": null}, "y": {"field": "y", "type": "quantitative", "axis": null}}},
        {"data": {"name": "c"}, "transform": [{"filter": "datum.s == 'H15'"}], "mark": {"type": "line", "strokeWidth": 2.2, "color": "#000000"},
         "encoding": {"x": {"field": "x", "type": "quantitative", "axis": null}, "y": {"field": "y", "type": "quantitative", "axis": null}}},
        {"data": {"name": "cm"}, "transform": [{"filter": "datum.s == 'H05'"}],
         "mark": {"type": "point", "shape": "circle", "filled": false, "size": 60, "strokeWidth": 1.3, "color": "#0a0af5"},
         "encoding": {
           "x": {"field": "x", "type": "quantitative", "axis": {"orient": "top", "values": [1.1111, 2.2222, 3.3333, 4.4444], "labels": false, "title": null}},
           "y": {"field": "y", "type": "quantitative", "axis": {"orient": "right", "values": [2.6667, 5.3333, 8, 10.6667, 13.3333], "labels": false, "title": null}}
         }},
        {"data": {"name": "cm"}, "transform": [{"filter": "datum.s == 'H10'"}],
         "mark": {"type": "point", "shape": "square", "filled": false, "size": 60, "strokeWidth": 1.3, "color": "#ee1c1c"},
         "encoding": {"x": {"field": "x", "type": "quantitative", "axis": null}, "y": {"field": "y", "type": "quantitative", "axis": null}}},
        {"data": {"name": "cm"}, "transform": [{"filter": "datum.s == 'H15'"}],
         "mark": {"type": "point", "shape": "diamond", "filled": false, "size": 55, "strokeWidth": 1.3, "color": "#000000"},
         "encoding": {"x": {"field": "x", "type": "quantitative", "axis": null}, "y": {"field": "y", "type": "quantitative", "axis": null}}},
        {"data": {"values": [{"s": "H05"}, {"s": "H10"}, {"s": "H15"}]},
         "mark": {"type": "point", "filled": false, "opacity": 0},
         "encoding": {
           "color": {"field": "s", "type": "nominal", "scale": {"domain": ["H05", "H10", "H15"], "range": ["#0a0af5", "#ee1c1c", "#000000"]},
             "legend": {"title": null, "labelColor": {"expr": "indexof(datum.label,'05')>=0 ? '#0a0af5' : indexof(datum.label,'10')>=0 ? '#ee1c1c' : '#000000'"}}},
           "shape": {"field": "s", "type": "nominal", "scale": {"domain": ["H05", "H10", "H15"], "range": ["M-1,0H1M-0.25,0A0.25,0.25,0,1,0,0.25,0A0.25,0.25,0,1,0,-0.25,0Z", "M-1,0H1M-0.23,-0.23H0.23V0.23H-0.23Z", "M-1,0H1M0,-0.28L0.28,0L0,0.28L-0.28,0Z"]},
             "legend": {"title": null, "labelColor": {"expr": "indexof(datum.label,'05')>=0 ? '#0a0af5' : indexof(datum.label,'10')>=0 ? '#ee1c1c' : '#000000'"}}}
         }}
      ]
    }
  ],
  "config": {
    "background": "#ffffff",
    "view": {"stroke": "#000000", "strokeWidth": 1.5},
    "axis": {"domain": false, "grid": false, "tickColor": "#000000", "tickWidth": 1.2, "tickSize": -5, "labelFont": "Liberation Sans", "labelFontSize": 14, "labelColor": "#000000", "labelPadding": 14, "labelFlush": false, "labelOverlap": false, "titleFont": "Liberation Serif", "titleFontSize": 19, "titleFontWeight": "normal", "titleColor": "#000000"},
    "axisX": {"titlePadding": 3},
    "legend": {"orient": "top-right", "offset": 6, "padding": 6, "rowPadding": 0, "strokeColor": "#d8d8d8", "fillColor": "#ffffff", "symbolSize": 900, "symbolStrokeWidth": 2, "symbolOpacity": 1, "symbolFillColor": "transparent", "labelFont": "Liberation Sans", "labelFontSize": 12, "labelOffset": 3},
    "title": {"font": "Liberation Serif", "fontSize": 24, "fontWeight": "normal", "color": "#000000", "orient": "bottom", "frame": "bounds", "anchor": "middle", "offset": 27}
  }
}
